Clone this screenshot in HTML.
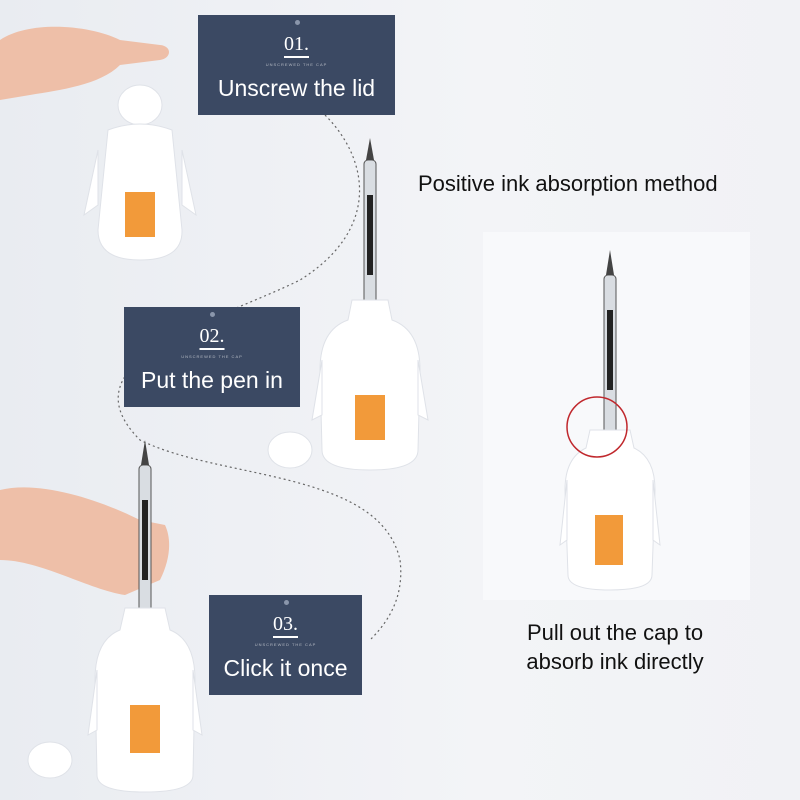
<!DOCTYPE html>
<html><head><meta charset="utf-8"><style>
body{margin:0}
#c{position:relative;width:800px;height:800px;overflow:hidden;background:linear-gradient(90deg,#e9ecf1,#f3f4f7 60%,#f1f2f5);font-family:"Liberation Sans",sans-serif}
.box{position:absolute;background:#3b4963;color:#fff;text-align:center}
.box .n{font-family:"Liberation Serif",serif;font-size:20px;margin-top:18px;text-decoration:underline;text-underline-offset:6px}
.box .s{font-size:4px;opacity:.6;margin-top:6px;letter-spacing:1px}
.box .t{font-size:23px;margin-top:8px}
.dot{position:absolute;width:5px;height:5px;border-radius:50%;background:#8a96ab;left:50%;top:5px;margin-left:-2px}
.txt{position:absolute;color:#111;font-size:22px}
</style></head><body><div id="c">
<svg width="800" height="800" style="position:absolute;left:0;top:0">
<path d="M325 115 C370 160,380 230,300 280 C220 320,60 360,140 440 C220 480,380 470,400 560 C405 600,385 625,370 640" fill="none" stroke="#666" stroke-width="1.2" stroke-dasharray="2 3"/>
<rect x="483" y="232" width="267" height="368" fill="#f8f9fb"/>
<path d="M0 40 C30 20,90 25,120 40 L160 45 C172 46,172 58,160 60 L120 65 C100 85,60 90,30 95 L0 100Z" fill="#eebfa8"/>
<g fill="#fff" stroke="#dfe2e8">
<ellipse cx="140" cy="105" rx="22" ry="20"/>
<path d="M108 130 Q140 118 172 130 L182 230 Q183 260 140 260 Q98 260 98 230Z"/>
<path d="M98 150 L84 215 L98 205Z"/><path d="M182 150 L196 215 L182 205Z"/>
</g>
<rect x="125" y="192" width="30" height="45" fill="#f29a3a"/>
<rect x="364" y="160" width="12" height="150" rx="4" fill="#d9dde2" stroke="#555"/>
<rect x="367" y="195" width="6" height="80" fill="#222"/>
<path d="M366 160 L370 138 L374 160Z" fill="#444"/>
<g fill="#fff" stroke="#dfe2e8">
<path d="M352 300 L388 300 L392 320 Q420 330 420 370 L418 450 Q418 470 370 470 Q322 470 322 450 L320 370 Q320 330 348 320Z"/>
<path d="M322 360 L312 420 L322 415Z"/><path d="M418 360 L428 420 L418 415Z"/>
<ellipse cx="290" cy="450" rx="22" ry="18"/>
</g>
<rect x="355" y="395" width="30" height="45" fill="#f29a3a"/>
<path d="M0 490 C40 480,100 500,140 520 L165 525 C172 540,170 560,160 580 L125 595 C90 590,40 560,0 560Z" fill="#eebfa8"/>
<rect x="139" y="465" width="12" height="150" rx="4" fill="#d9dde2" stroke="#555"/>
<rect x="142" y="500" width="6" height="80" fill="#222"/>
<path d="M141 465 L145 440 L149 465Z" fill="#444"/>
<g fill="#fff" stroke="#dfe2e8">
<path d="M125 608 L165 608 L170 630 Q195 640 195 680 L193 775 Q193 792 145 792 Q97 792 97 775 L95 680 Q95 640 120 630Z"/>
<path d="M97 670 L88 735 L97 730Z"/><path d="M193 670 L202 735 L193 730Z"/>
<ellipse cx="50" cy="760" rx="22" ry="18"/>
</g>
<rect x="130" y="705" width="30" height="48" fill="#f29a3a"/>
<rect x="604" y="275" width="12" height="160" rx="4" fill="#d9dde2" stroke="#555"/>
<rect x="607" y="310" width="6" height="80" fill="#222"/>
<path d="M606 275 L610 250 L614 275Z" fill="#444"/>
<g fill="#fff" stroke="#dfe2e8">
<path d="M590 430 L630 430 L634 448 Q655 458 655 490 L652 575 Q652 590 610 590 Q568 590 568 575 L565 490 Q565 458 586 448Z"/>
<path d="M567 480 L560 545 L567 540Z"/><path d="M653 480 L660 545 L653 540Z"/>
</g>
<rect x="595" y="515" width="28" height="50" fill="#f29a3a"/>
<circle cx="597" cy="427" r="30" fill="none" stroke="#c0282d" stroke-width="1.5"/>
</svg>
<div class="box" style="left:198px;top:15px;width:197px;height:100px"><div class="dot"></div><div class="n">01.</div><div class="s">UNSCREWED THE CAP</div><div class="t">Unscrew the lid</div></div>
<div class="box" style="left:124px;top:307px;width:176px;height:100px"><div class="dot"></div><div class="n">02.</div><div class="s">UNSCREWED THE CAP</div><div class="t">Put the pen in</div></div>
<div class="box" style="left:209px;top:595px;width:153px;height:100px"><div class="dot"></div><div class="n">03.</div><div class="s">UNSCREWED THE CAP</div><div class="t">Click it once</div></div>
<div class="txt" style="left:418px;top:171px">Positive ink absorption method</div>
<div class="txt" style="left:480px;top:618px;width:270px;text-align:center;line-height:29px">Pull out the cap to<br>absorb ink directly</div>
</div></body></html>
